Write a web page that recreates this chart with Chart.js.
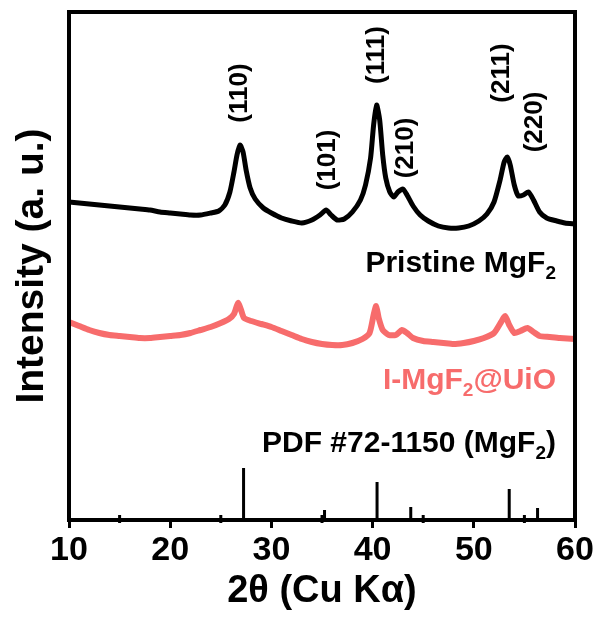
<!DOCTYPE html>
<html>
<head>
<meta charset="utf-8">
<script src="https://cdn.jsdelivr.net/npm/chart.js@4.4.0/dist/chart.umd.min.js"></script>
<style>
  html, body { margin: 0; padding: 0; background: #fff; }
  #wrap { width: 598px; height: 617px; }
</style>
</head>
<body>
<div id="wrap"><canvas id="xrd" width="598" height="617"></canvas></div>
<script>
// pristine MgF2 pattern (2theta, intensity a.u.)
var pristineX = [10, 11, 12, 13, 14, 15, 16, 17, 18, 19, 20, 21, 22, 23, 24, 24.8, 25.4, 25.9, 26.3, 26.6, 26.9, 27.2, 27.5, 27.9, 28.4, 29.2, 30, 31, 32, 33, 34, 34.8, 35.4, 35.9, 36.5, 37.2, 38, 38.8, 39.3, 39.8, 40.1, 40.4, 40.7, 41.0, 41.3, 41.7, 42.1, 42.5, 43.0, 43.4, 44, 44.7, 45.5, 46.5, 47.5, 48.5, 49.5, 50.5, 51.3, 52, 52.6, 53, 53.3, 53.6, 54.0, 54.4, 54.9, 55.4, 55.9, 56.5, 57.2, 58.2, 59, 60];
var pristineY = [318, 317, 316, 315, 314, 313, 312, 311, 310, 308, 307, 306, 305, 305, 307, 309, 315, 328, 348, 365, 375, 368, 350, 332, 321, 312, 307, 302, 299, 297, 300, 305, 310, 305, 300, 301, 308, 320, 335, 362, 395, 415, 400, 365, 342, 328, 323, 328, 331, 325, 314, 305, 299, 294, 292, 292, 294, 299, 306, 318, 340, 358, 363, 355, 335, 324, 325, 328, 320, 308, 302, 299, 297, 296];

// I-MgF2@UiO pattern
var uioX = [10, 11, 12, 13, 14, 15, 16, 17, 18, 19, 20, 21, 22, 23, 24, 25, 25.8, 26.3, 26.7, 27.0, 27.3, 28, 29, 30, 31, 32, 33, 34, 35, 36, 37, 38, 39, 39.7, 40.1, 40.35, 40.6, 41, 41.6, 42.3, 42.9, 43.4, 44, 45, 46, 47, 48, 49, 50, 51, 52, 52.7, 53.1, 53.5, 54, 54.6, 55.3, 55.9, 56.5, 57.5, 58.5, 60];
var uioY = [198, 194, 190, 187, 185, 184, 183, 182, 182, 183, 184, 185, 187, 190, 193, 197, 201, 206, 217, 210, 202, 199, 196, 193, 189, 185, 181, 178, 176, 175, 175, 177, 181, 187, 205, 214, 202, 190, 185, 185, 190, 187, 182, 179, 178, 177, 176, 177, 179, 182, 187, 198, 204, 195, 187, 189, 192, 188, 184, 183, 182, 181];

// PDF #72-1150 reference lines
var pdfPos = [27.25, 35.25, 40.44, 43.77, 53.50, 56.30];
var pdfInt = [52, 10, 38, 13, 31, 12];

// hkl labels
var hklText = ['(110)', '(101)', '(111)', '(210)', '(211)', '(220)'];
var hklX = [26.9, 35.6, 40.4, 43.3, 52.8, 56.0];
var hklY = [427, 360, 465, 372, 447, 398];

var xTicks = [10, 20, 30, 40, 50, 60];

var RED = 'rgb(247, 108, 108)';
var FONT = '"Liberation Sans", Arial, sans-serif';

function toPoints(xs, ys) {
    var pts = [];
    for (var i = 0; i < xs.length; i++) pts.push({x: xs[i], y: ys[i]});
    return pts;
}

function stickPoints(xs, ys) {
    var pts = [];
    for (var i = 0; i < xs.length; i++) {
        pts.push({x: xs[i], y: 0});
        pts.push({x: xs[i], y: ys[i]});
        pts.push({x: xs[i], y: null});
    }
    return pts;
}

// text with a subscript "2" after the base part
function subText(ctx, parts, xRight, baseline, size, color) {
    ctx.save();
    ctx.fillStyle = color;
    ctx.textBaseline = 'alphabetic';
    ctx.textAlign = 'left';
    var big = 'bold ' + size + 'px ' + FONT;
    var small = 'bold ' + Math.round(size * 0.62) + 'px ' + FONT;
    var w = 0;
    parts.forEach(function (p) {
        ctx.font = p.sub ? small : big;
        w += ctx.measureText(p.t).width;
    });
    var x = xRight - w;
    parts.forEach(function (p) {
        ctx.font = p.sub ? small : big;
        ctx.fillText(p.t, x, baseline + (p.sub ? size * 0.22 : 0));
        x += ctx.measureText(p.t).width;
    });
    ctx.restore();
}

var decor = {
    id: 'decor',
    afterDatasetsDraw: function (chart) {
        var ctx = chart.ctx, a = chart.chartArea;
        var xs = chart.scales.x, ys = chart.scales.y;
        ctx.save();
        // frame
        ctx.strokeStyle = '#000';
        ctx.lineWidth = 4;
        ctx.strokeRect(a.left, a.top, a.right - a.left, a.bottom - a.top);
        // minor ticks
        ctx.lineWidth = 3;
        for (var v = 15; v < 60; v += 10) {
            var px = xs.getPixelForValue(v);
            ctx.beginPath();
            ctx.moveTo(px, a.bottom - 5);
            ctx.lineTo(px, a.bottom + 3);
            ctx.stroke();
        }
        // hkl labels
        ctx.fillStyle = '#000';
        ctx.font = 'bold 26px ' + FONT;
        ctx.textAlign = 'center';
        ctx.textBaseline = 'middle';
        for (var i = 0; i < hklText.length; i++) {
            ctx.save();
            ctx.translate(xs.getPixelForValue(hklX[i]), ys.getPixelForValue(hklY[i]));
            ctx.rotate(-Math.PI / 2);
            ctx.fillText(hklText[i], 0, 0);
            ctx.restore();
        }
        ctx.restore();
        subText(ctx, [{t: 'Pristine MgF'}, {t: '2', sub: true}], 556, 272, 30, '#000');
        subText(ctx, [{t: 'I-MgF'}, {t: '2', sub: true}, {t: '@UiO'}], 556, 389, 30, RED);
        subText(ctx, [{t: 'PDF #72-1150 (MgF'}, {t: '2', sub: true}, {t: ')'}], 556, 452, 30, '#000');
    }
};

new Chart(document.getElementById('xrd'), {
    type: 'line',
    data: {
        datasets: [{
            label: 'Pristine MgF2',
            data: toPoints(pristineX, pristineY),
            borderColor: '#000',
            borderWidth: 5,
            pointRadius: 0,
            tension: 0.2
        }, {
            label: 'I-MgF2@UiO',
            data: toPoints(uioX, uioY),
            borderColor: RED,
            borderWidth: 6,
            pointRadius: 0,
            tension: 0.2
        }, {
            label: 'PDF #72-1150',
            data: stickPoints(pdfPos, pdfInt),
            borderColor: '#000',
            borderWidth: 3,
            pointRadius: 0,
            spanGaps: false
        }]
    },
    options: {
        responsive: false,
        animation: false,
        layout: { padding: { left: 0, top: 12, right: 23, bottom: 0 } },
        plugins: { legend: { display: false }, tooltip: { enabled: false } },
        scales: {
            x: {
                type: 'linear',
                min: 10,
                max: 60,
                afterFit: function (s) { s.height = 97; },
                afterBuildTicks: function (s) { s.ticks = xTicks.map(function (v) { return {value: v}; }); },
                grid: { drawOnChartArea: false, tickLength: 8, tickWidth: 3, tickColor: '#000' },
                border: { display: false },
                ticks: { color: '#000', padding: 2, maxRotation: 0, font: { family: FONT, size: 34, weight: 'bold' } },
                title: {
                    display: true,
                    text: '2θ (Cu Kα)',
                    color: '#000',
                    padding: { top: 0, bottom: 3 },
                    font: { family: FONT, size: 38, weight: 'bold' }
                }
            },
            y: {
                min: 0,
                max: 508,
                afterFit: function (s) { s.width = 69; },
                grid: { display: false },
                border: { display: false },
                ticks: { display: false },
                title: {
                    display: true,
                    text: 'Intensity (a. u.)',
                    color: '#000',
                    padding: { top: 9, bottom: 0 },
                    font: { family: FONT, size: 39, weight: 'bold' }
                }
            }
        }
    },
    plugins: [decor]
});
</script>
</body>
</html>
